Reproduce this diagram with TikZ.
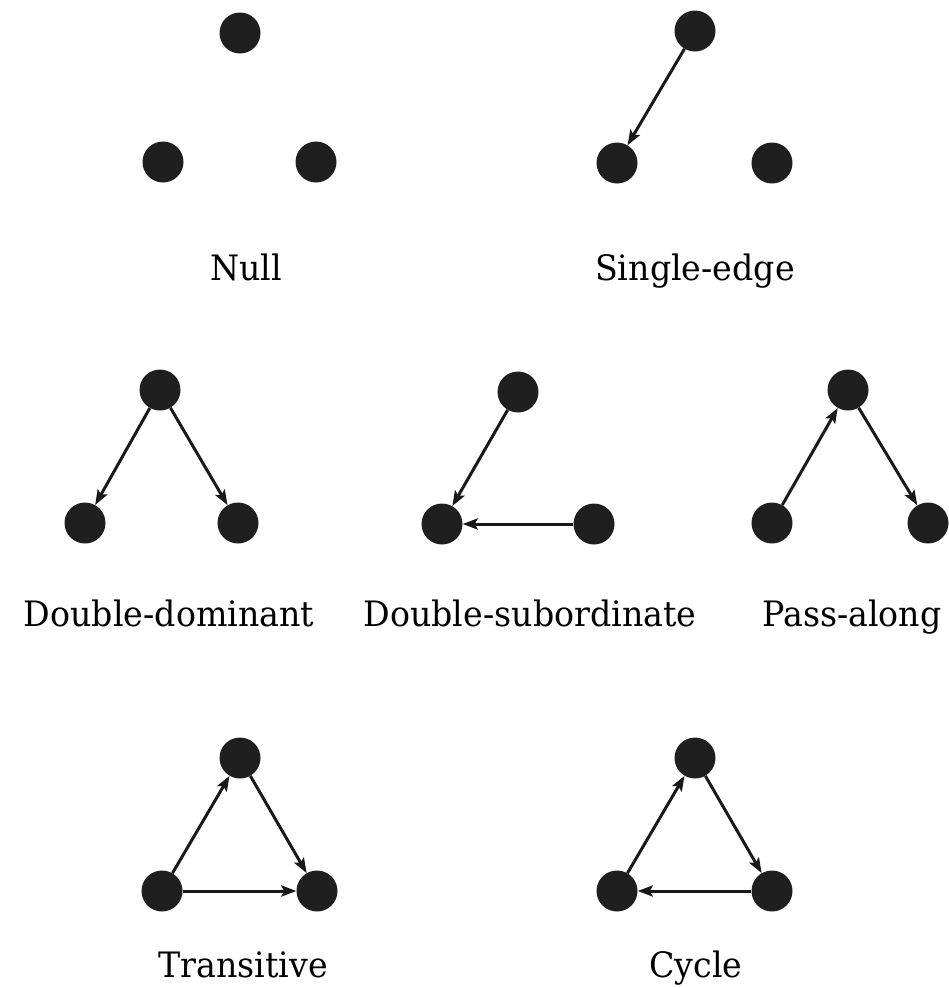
\documentclass[tikz,border=0pt]{standalone}
\usepackage{fontspec}
\setmainfont[FakeStretch=0.95]{DejaVu Serif}
\usetikzlibrary{arrows.meta}

\tikzset{
  dot/.style={circle,fill=black!88,inner sep=0pt,minimum size=41pt},
  lbl/.style={anchor=base,font=\fontsize{35}{40}\selectfont},
  tie/.style={->,line width=3pt,black!90}
}

\begin{document}
\begin{tikzpicture}[>={Stealth[length=15pt,width=11pt,inset=3pt]},x=1pt,y=-1pt]
  \useasboundingbox (0,0) rectangle (948,988);
  % Null
  \node[dot] (n1) at (240,33) {};
  \node[dot] (n2) at (163,162) {};
  \node[dot] (n3) at (316,162) {};
  \node[lbl] (nl) at (246,280) {Null};
  % Single-edge
  \node[dot] (s1) at (695,31) {};
  \node[dot] (s2) at (617,163) {};
  \node[dot] (s3) at (772,163) {};
  \node[lbl] (sl) at (695,280) {Single-edge};
  \draw[tie] (s1) -- (s2);
  % Double-dominant
  \node[dot] (d1) at (160,390) {};
  \node[dot] (d2) at (85,523) {};
  \node[dot] (d3) at (238,523) {};
  \node[lbl] (dl) at (169,626) {Double-dominant};
  \draw[tie] (d1) -- (d2);
  \draw[tie] (d1) -- (d3);
  % Double-subordinate
  \node[dot] (b1) at (518,392) {};
  \node[dot] (b2) at (442,524) {};
  \node[dot] (b3) at (594,524) {};
  \node[lbl] (bl) at (530,626) {Double-subordinate};
  \draw[tie] (b1) -- (b2);
  \draw[tie] (b3) -- (b2);
  % Pass-along
  \node[dot] (p1) at (848,390) {};
  \node[dot] (p2) at (772,523) {};
  \node[dot] (p3) at (928,523) {};
  \node[lbl] (pl) at (852,626) {Pass-along};
  \draw[tie] (p2) -- (p1);
  \draw[tie] (p1) -- (p3);
  % Transitive
  \node[dot] (t1) at (240,758) {};
  \node[dot] (t2) at (162,891) {};
  \node[dot] (t3) at (317,891) {};
  \node[lbl] (tl) at (243,977) {Transitive};
  \draw[tie] (t2) -- (t1);
  \draw[tie] (t1) -- (t3);
  \draw[tie] (t2) -- (t3);
  % Cycle
  \node[dot] (c1) at (695,758) {};
  \node[dot] (c2) at (617,891) {};
  \node[dot] (c3) at (772,891) {};
  \node[lbl] (cl) at (696,977) {Cycle};
  \draw[tie] (c2) -- (c1);
  \draw[tie] (c1) -- (c3);
  \draw[tie] (c3) -- (c2);
\end{tikzpicture}
\end{document}
